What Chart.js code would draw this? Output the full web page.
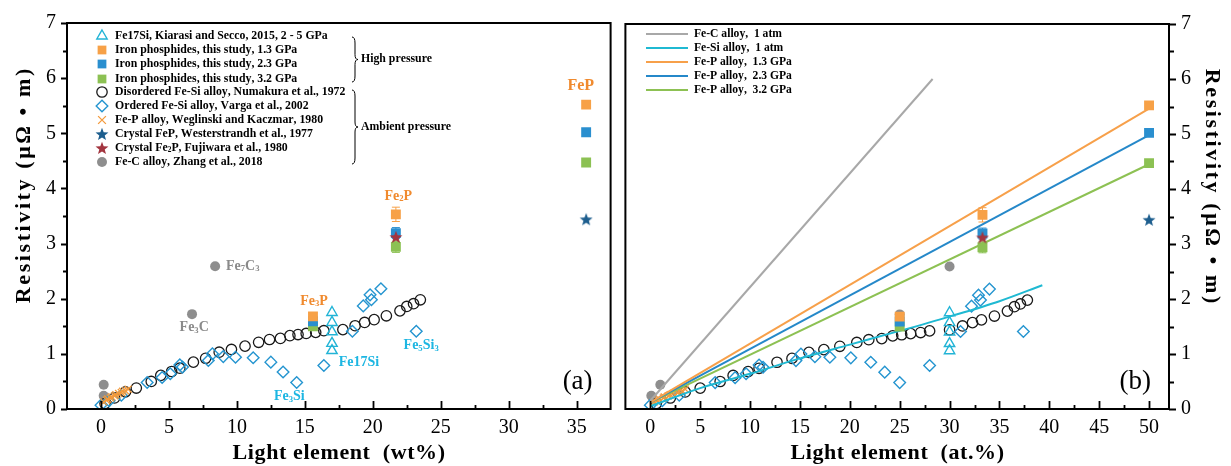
<!DOCTYPE html>
<html><head><meta charset="utf-8">
<script src="https://cdn.jsdelivr.net/npm/chart.js@4.4.1/dist/chart.umd.min.js"></script>
<style>
html,body{margin:0;padding:0;background:#fff;}
#wrap{position:relative;width:1231px;height:466px;overflow:hidden;background:#fff;}
.pane{position:absolute;top:0;height:466px;}
</style></head><body>
<div id="wrap">
  <div class="pane" style="left:0;width:618px"><canvas id="ca" width="618" height="466"></canvas></div>
  <div class="pane" style="left:618px;width:613px"><canvas id="cb" width="613" height="466"></canvas></div>
</div>
<script>
// ---------------- DATA ----------------
const wtTicks = [0, 5, 10, 15, 20, 25, 30, 35];
const atTicks = [0, 5, 10, 15, 20, 25, 30, 35, 40, 45, 50];
const resTicks = [0, 1, 2, 3, 4, 5, 6, 7];

const seriesLabels = [
  'Fe17Si, Kiarasi and Secco, 2015, 2 - 5 GPa',
  'Iron phosphides, this study, 1.3 GPa',
  'Iron phosphides, this study, 2.3 GPa',
  'Iron phosphides, this study, 3.2 GPa',
  'Disordered Fe-Si alloy, Numakura et al., 1972',
  'Ordered Fe-Si alloy, Varga et al., 2002',
  'Fe-P alloy, Weglinski and Kaczmar, 1980',
  'Crystal FeP, Westerstrandh et al., 1977',
  'Crystal Fe\u2082P, Fujiwara et al., 1980',
  'Fe-C alloy, Zhang et al., 2018'
];
const lineLabels = ['Fe-C alloy,  1 atm', 'Fe-Si alloy,  1 atm', 'Fe-P alloy,  1.3 GPa', 'Fe-P alloy,  2.3 GPa', 'Fe-P alloy,  3.2 GPa'];
const xTitleA = 'Light element  (wt%)';
const xTitleB = 'Light element  (at.%)';
const yTitle = 'Resistivity (\u03bc\u03a9 \u2022 m)';

// resistivity values (µΩ·m)
const fe17Si_res = [1.75, 1.57, 1.40, 1.19, 1.06];
const phos13_res = [1.68, 3.53, 5.52];
const phos23_res = [1.59, 3.19, 5.02];
const phos32_res = [1.50, 2.94, 4.47];
const phos13_err = [0.06, 0.13, 0.05];
const phos23_err = [0.05, 0.10, 0.05];
const phos32_err = [0.05, 0.10, 0.05];
const disSi_res = [0.10, 0.20, 0.31, 0.38, 0.50, 0.61, 0.68, 0.74, 0.85, 0.92, 1.03, 1.08, 1.14, 1.21, 1.26, 1.28, 1.33, 1.35, 1.37, 1.39, 1.42, 1.44, 1.51, 1.57, 1.62, 1.69, 1.78, 1.86, 1.91, 1.98];
const ordSi_res = [0.07, 0.15, 0.25, 0.48, 0.57, 0.64, 0.80, 0.76, 0.88, 1.00, 0.95, 0.94, 0.93, 0.85, 0.67, 0.48, 0.79, 1.41, 1.87, 2.07, 1.98, 2.18, 1.41];
const feP_res = [0.13, 0.16, 0.18, 0.20, 0.22, 0.24, 0.26, 0.28, 0.30, 0.32, 0.33, 0.36];
const crysFeP_res = [3.44];
const crysFe2P_res = [3.12];
const feC_res = [0.24, 0.44, 1.72, 2.59];

// composition, wt% (panel a)
const fe17Si_wt = [17.0, 17.0, 17.0, 17.0, 17.0];
const phos_wt = [15.6, 21.7, 35.7];
const disSi_wt = [0.3, 1.0, 1.8, 2.6, 3.7, 4.4, 5.2, 5.8, 6.8, 7.7, 8.7, 9.6, 10.6, 11.6, 12.4, 13.2, 13.9, 14.5, 15.1, 15.8, 16.4, 17.8, 18.7, 19.4, 20.1, 21.0, 22.0, 22.5, 23.0, 23.5];
const ordSi_wt = [0.0, 0.6, 1.5, 3.4, 4.5, 5.1, 5.8, 6.0, 7.9, 8.2, 9.0, 9.9, 11.2, 12.5, 13.4, 14.4, 16.4, 18.5, 19.3, 19.8, 19.9, 20.6, 23.2];
const feP_wt = [0.2, 0.4, 0.5, 0.7, 0.8, 1.0, 1.1, 1.3, 1.5, 1.6, 1.8, 2.0];
const crysFeP_wt = [35.7];
const crysFe2P_wt = [21.7];
const feC_wt = [0.2, 0.2, 6.7, 8.4];

// composition, at.% (panel b)
const fe17Si_at = [30, 30, 30, 30, 30];
const phos_at = [25, 33.3, 50];
const disSi_at = [0.6, 2.0, 3.5, 5.0, 7.0, 8.3, 9.8, 10.9, 12.7, 14.2, 15.9, 17.4, 19.0, 20.7, 21.9, 23.2, 24.3, 25.2, 26.1, 27.1, 28.0, 30.0, 31.3, 32.3, 33.2, 34.5, 35.8, 36.5, 37.1, 37.8];
const ordSi_at = [0.0, 1.2, 2.9, 6.5, 8.5, 9.6, 10.9, 11.3, 14.6, 15.1, 16.5, 18.0, 20.1, 22.1, 23.5, 25.0, 28.0, 31.1, 32.2, 32.9, 33.1, 34.0, 37.4];
const feP_at = [0.4, 0.7, 0.9, 1.3, 1.4, 1.8, 2.0, 2.3, 2.7, 2.9, 3.2, 3.5];
const crysFeP_at = [50];
const crysFe2P_at = [33.3];
const feC_at = [0.1, 1.0, 25, 30];

// fitted trend lines (panel b)
const lineFeC_at = [0, 28.3];
const lineFeC_res = [0.15, 6.0];
const lineFeSi_at = [0, 5, 10, 15, 20, 25, 30, 35, 39.3];
const lineFeSi_res = [0.05, 0.38, 0.64, 0.92, 1.17, 1.42, 1.68, 1.96, 2.25];
const lineFeP_at = [0, 50];
const lineFeP13_res = [0.12, 5.46];
const lineFeP23_res = [0.12, 4.98];
const lineFeP32_res = [0.12, 4.45];

// ---------------- STYLE ----------------
const SERIF = "'Liberation Serif','Times New Roman',serif";
const COL = {
  tri: '#22b4d6', orange: '#f7a147', blue: '#2a8fcf', green: '#8cc153', circ: '#1a1a1a',
  dia: '#2595d0', x: '#f39a3c', starB: '#1d5e8e', starR: '#a3353f', gray: '#8e8e8e',
  lFeC: '#a8a8a8', lFeSi: '#1fb9d2', lP13: '#f7a04a', lP23: '#2588c9', lP32: '#8dc153',
  txtO: '#f08a2e', txtC: '#1db6e2', txtG: '#8a8a8a'
};
function makeStar(color, size) {
  const c = document.createElement('canvas'); c.width = size; c.height = size;
  const g = c.getContext('2d'); g.fillStyle = color; g.beginPath();
  const cx = size / 2, cy = size / 2 + 0.6, R = size / 2 - 0.2, r = R * 0.42;
  for (let i = 0; i < 10; i++) { const a = -Math.PI / 2 + i * Math.PI / 5; const rr = i % 2 ? r : R; g.lineTo(cx + rr * Math.cos(a), cy + rr * Math.sin(a)); }
  g.closePath(); g.fill(); return c;
}
const starB = makeStar(COL.starB, 14), starR = makeStar(COL.starR, 14);

const MK = [
  {pointStyle: 'triangle', pointRadius: 6, pointBackgroundColor: 'rgba(0,0,0,0)', pointBorderColor: COL.tri, pointBorderWidth: 1.4},
  {pointStyle: 'rect', pointRadius: 7, pointBackgroundColor: COL.orange, pointBorderColor: COL.orange, pointBorderWidth: 0},
  {pointStyle: 'rect', pointRadius: 7, pointBackgroundColor: COL.blue, pointBorderColor: COL.blue, pointBorderWidth: 0},
  {pointStyle: 'rect', pointRadius: 7, pointBackgroundColor: COL.green, pointBorderColor: COL.green, pointBorderWidth: 0},
  {pointStyle: 'circle', pointRadius: 5.2, pointBackgroundColor: 'rgba(0,0,0,0)', pointBorderColor: COL.circ, pointBorderWidth: 1.3},
  {pointStyle: 'rectRot', pointRadius: 5.8, pointBackgroundColor: 'rgba(0,0,0,0)', pointBorderColor: COL.dia, pointBorderWidth: 1.4},
  {pointStyle: 'crossRot', pointRadius: 5, pointBackgroundColor: COL.x, pointBorderColor: COL.x, pointBorderWidth: 1.3},
  {pointStyle: starB, pointRadius: 7, pointBackgroundColor: COL.starB, pointBorderColor: COL.starB, pointBorderWidth: 0},
  {pointStyle: starR, pointRadius: 7, pointBackgroundColor: COL.starR, pointBorderColor: COL.starR, pointBorderWidth: 0},
  {pointStyle: 'circle', pointRadius: 5, pointBackgroundColor: COL.gray, pointBorderColor: COL.gray, pointBorderWidth: 0}
];
const ORDER = [5, 2, 3, 4, 8, 7, 6, 0, 1, 9];
const ERRS = [null, phos13_err, phos23_err, phos32_err, null, null, null, null, null, null];

function pts(xs, ys) { return xs.map((x, i) => ({x: x, y: ys[i]})); }
function pointSets(xsList) {
  const ysList = [fe17Si_res, phos13_res, phos23_res, phos32_res, disSi_res, ordSi_res, feP_res, crysFeP_res, crysFe2P_res, feC_res];
  return xsList.map((xs, i) => Object.assign({label: seriesLabels[i], data: pts(xs, ysList[i]), showLine: false, order: ORDER[i], errors: ERRS[i]}, MK[i]));
}

// ---------------- DRAW HELPERS ----------------
const SUB = '\u2080\u2081\u2082\u2083\u2084\u2085\u2086\u2087\u2088\u2089';
function richWidth(ctx, str, size, weight) {
  let w = 0;
  for (const ch of str) {
    const k = SUB.indexOf(ch);
    ctx.font = weight + ' ' + (k >= 0 ? size * 0.62 : size) + 'px ' + SERIF;
    w += ctx.measureText(k >= 0 ? String(k) : ch).width;
  }
  return w;
}
function drawRich(ctx, str, x, y, size, weight, color, align) {
  const w = richWidth(ctx, str, size, weight);
  let cx = align === 'center' ? x - w / 2 : (align === 'right' ? x - w : x);
  ctx.save(); ctx.fillStyle = color; ctx.textBaseline = 'middle'; ctx.textAlign = 'left';
  for (const ch of str) {
    const k = SUB.indexOf(ch);
    if (k >= 0) {
      ctx.font = weight + ' ' + (size * 0.62) + 'px ' + SERIF;
      ctx.fillText(String(k), cx, y + size * 0.22); cx += ctx.measureText(String(k)).width;
    } else {
      ctx.font = weight + ' ' + size + 'px ' + SERIF;
      ctx.fillText(ch, cx, y); cx += ctx.measureText(ch).width;
    }
  }
  ctx.restore();
}
function drawBrace(ctx, x, y1, y2, w) {
  const ym = (y1 + y2) / 2;
  ctx.beginPath();
  ctx.moveTo(x, y1);
  ctx.quadraticCurveTo(x + w, y1, x + w, y1 + 6);
  ctx.lineTo(x + w, ym - 5);
  ctx.quadraticCurveTo(x + w, ym, x + w * 2, ym);
  ctx.quadraticCurveTo(x + w, ym, x + w, ym + 5);
  ctx.lineTo(x + w, y2 - 6);
  ctx.quadraticCurveTo(x + w, y2, x, y2);
  ctx.stroke();
}
function spacedText(ctx, text, x, y, font, spacing, rot) {
  ctx.save();
  ctx.translate(x, y); if (rot) ctx.rotate(rot);
  ctx.font = font; ctx.fillStyle = '#000'; ctx.textBaseline = 'middle'; ctx.textAlign = 'left';
  let w = 0; const chars = Array.from(text);
  chars.forEach((c, i) => { w += ctx.measureText(c).width + (i < chars.length - 1 ? spacing : 0); });
  let cx = -w / 2;
  chars.forEach(c => { ctx.fillText(c, cx, 0); cx += ctx.measureText(c).width + spacing; });
  ctx.restore();
}

// frame + ticks + error bars + annotations
function framePlugin(cfg) {
  return {
    id: 'frame',
    beforeDatasetsDraw(chart) {
      const ctx = chart.ctx, xs = chart.scales.x, ys = chart.scales.y;
      chart.data.datasets.forEach(ds => {
        if (!ds.errors) return;
        ctx.save(); ctx.strokeStyle = ds.pointBackgroundColor; ctx.lineWidth = 1;
        ds.data.forEach((p, i) => {
          const px = xs.getPixelForValue(p.x), y1 = ys.getPixelForValue(p.y + ds.errors[i]), y2 = ys.getPixelForValue(p.y - ds.errors[i]);
          ctx.beginPath(); ctx.moveTo(px, y1); ctx.lineTo(px, y2);
          ctx.moveTo(px - 4, y1); ctx.lineTo(px + 4, y1); ctx.moveTo(px - 4, y2); ctx.lineTo(px + 4, y2); ctx.stroke();
        });
        ctx.restore();
      });
    },
    afterDraw(chart) {
      const ctx = chart.ctx, a = chart.chartArea, xs = chart.scales.x, ys = chart.scales.y;
      ctx.save();
      ctx.strokeStyle = '#000'; ctx.lineWidth = 2;
      ctx.strokeRect(a.left, a.top, a.right - a.left, a.bottom - a.top);
      ctx.lineWidth = 1.8; ctx.beginPath();
      // x ticks (inward)
      xs.ticks.forEach(t => {
        const p = Math.round(xs.getPixelForValue(t.value)) + 0.5;
        ctx.moveTo(p, a.bottom); ctx.lineTo(p, a.bottom - 8);
        const m = t.value + 2.5;
        if (m < xs.max) { const q = Math.round(xs.getPixelForValue(m)) + 0.5; ctx.moveTo(q, a.bottom); ctx.lineTo(q, a.bottom - 4); }
      });
      // y ticks (outward)
      const side = cfg.ySide, dir = side === 'left' ? -1 : 1, xe = side === 'left' ? a.left : a.right;
      ys.ticks.forEach(t => {
        const p = Math.round(ys.getPixelForValue(t.value)) + 0.5;
        ctx.moveTo(xe, p); ctx.lineTo(xe + dir * cfg.yMajor, p);
        const m = t.value + 0.5;
        if (m < ys.max) { const q = Math.round(ys.getPixelForValue(m)) + 0.5; ctx.moveTo(xe, q); ctx.lineTo(xe + dir * cfg.yMinor, q); }
      });
      ctx.stroke();
      // axis titles
      spacedText(ctx, cfg.xTitle, (a.left + a.right) / 2, 453, 'bold 22px ' + SERIF, 0.6, 0);
      spacedText(ctx, yTitle, cfg.yTitleX, cfg.yTitleY, 'bold 22px ' + SERIF, 2.6, side === 'left' ? -Math.PI / 2 : Math.PI / 2);
      // panel letter
      ctx.font = '27px ' + SERIF; ctx.fillStyle = '#000'; ctx.textAlign = 'right'; ctx.textBaseline = 'middle';
      ctx.fillText(cfg.letter, a.right - 18, a.bottom - 27);
      // annotations
      (cfg.ann || []).forEach(n => {
        drawRich(ctx, n.t, xs.getPixelForValue(n.x), ys.getPixelForValue(n.y), n.size, 'bold', n.color, n.align);
      });
      if (cfg.legend) cfg.legend(ctx, chart);
      ctx.restore();
    }
  };
}

function legendA(ctx, chart) {
  const rows = [36, 50, 64, 79, 92, 106, 120, 134, 148, 162];
  chart.data.datasets.forEach((ds, i) => {
    const y = rows[i];
    ctx.save();
    ctx.fillStyle = ds.pointBackgroundColor; ctx.strokeStyle = ds.pointBorderColor; ctx.lineWidth = ds.pointBorderWidth || 1;
    const r = ds.pointStyle === 'rect' ? 6.2 : (ds.pointStyle === 'crossRot' ? 5.5 : ds.pointRadius);
    Chart.helpers.drawPoint(ctx, {pointStyle: ds.pointStyle, radius: r, rotation: 0, borderWidth: ds.pointBorderWidth}, 102, y);
    ctx.restore();
    drawRich(ctx, ds.label, 115, y, 11.8, 'bold', '#000', 'left');
  });
  ctx.save(); ctx.strokeStyle = '#000'; ctx.lineWidth = 1;
  drawBrace(ctx, 352, 37, 82, 3);
  drawBrace(ctx, 352, 90, 164, 3);
  ctx.restore();
  drawRich(ctx, 'High pressure', 361, 59, 11.8, 'bold', '#000', 'left');
  drawRich(ctx, 'Ambient pressure', 361, 127, 11.8, 'bold', '#000', 'left');
}
function legendB(ctx, chart) {
  const rows = [34, 48, 62, 76, 90];
  const cols = [COL.lFeC, COL.lFeSi, COL.lP13, COL.lP23, COL.lP32];
  lineLabels.forEach((t, i) => {
    ctx.save(); ctx.strokeStyle = cols[i]; ctx.lineWidth = 2;
    ctx.beginPath(); ctx.moveTo(646 - 618, rows[i]); ctx.lineTo(688 - 618, rows[i]); ctx.stroke(); ctx.restore();
    drawRich(ctx, t, 694 - 618, rows[i], 11.6, 'bold', '#000', 'left');
  });
}

function xScale(min, max, tickVals) {
  return {
    type: 'linear', min: min, max: max, position: 'bottom',
    afterBuildTicks: s => { s.ticks = tickVals.map(v => ({value: v})); },
    afterFit: s => { s.height = 57; },
    grid: {display: false, drawTicks: false}, border: {display: false},
    ticks: {font: {family: SERIF, size: 20}, color: '#000', padding: 7, maxRotation: 0, autoSkip: false},
    title: {display: false}
  };
}
function yScale(pos, width) {
  return {
    type: 'linear', min: 0, max: 7, position: pos,
    afterBuildTicks: s => { s.ticks = resTicks.map(v => ({value: v})); },
    afterFit: s => { s.width = width; },
    grid: {display: false, drawTicks: false}, border: {display: false},
    ticks: {font: {family: SERIF, size: 20}, color: '#000', padding: pos === 'left' ? 11 : 12},
    title: {display: false}
  };
}

// ---------------- PANEL A ----------------
new Chart(document.getElementById('ca'), {
  type: 'scatter',
  data: {datasets: pointSets([fe17Si_wt, phos_wt, phos_wt, phos_wt, disSi_wt, ordSi_wt, feP_wt, crysFeP_wt, crysFe2P_wt, feC_wt])},
  options: {
    responsive: false, animation: false, events: [],
    layout: {padding: {top: 19, right: 4, left: 0, bottom: 0}},
    plugins: {legend: {display: false}, tooltip: {enabled: false}},
    scales: {x: xScale(-2.5, 37.5, wtTicks), y: yScale('left', 67)}
  },
  plugins: [framePlugin({
    ySide: 'left', yMajor: 6, yMinor: 4, yTitleX: 24, yTitleY: 186, letter: '(a)', legend: legendA, xTitle: xTitleA,
    ann: [
      {t: 'Fe\u2087C\u2083', x: 9.2, y: 2.59, size: 14, color: COL.txtG, align: 'left'},
      {t: 'Fe\u2083C', x: 6.86, y: 1.48, size: 14, color: COL.txtG, align: 'center'},
      {t: 'Fe\u2083Si', x: 13.86, y: 0.22, size: 14, color: COL.txtC, align: 'center'},
      {t: 'Fe17Si', x: 17.5, y: 0.85, size: 14, color: COL.txtC, align: 'left'},
      {t: 'Fe\u2085Si\u2083', x: 23.56, y: 1.15, size: 14, color: COL.txtC, align: 'center'},
      {t: 'Fe\u2083P', x: 15.68, y: 1.96, size: 14, color: COL.txtO, align: 'center'},
      {t: 'Fe\u2082P', x: 21.88, y: 3.86, size: 14, color: COL.txtO, align: 'center'},
      {t: 'FeP', x: 35.3, y: 5.86, size: 16, color: COL.txtO, align: 'center'}
    ]
  })]
});

// ---------------- PANEL B ----------------
function lineSet(label, xs, ys, color, tension, order) {
  return {label: label, data: pts(xs, ys), showLine: true, pointRadius: 0, borderColor: color, backgroundColor: color, borderWidth: 2, tension: tension, cubicInterpolationMode: tension ? 'monotone' : 'default', order: order, fill: false};
}
const setsB = pointSets([fe17Si_at, phos_at, phos_at, phos_at, disSi_at, ordSi_at, feP_at, crysFeP_at, crysFe2P_at, feC_at]).concat([
  lineSet(lineLabels[0], lineFeC_at, lineFeC_res, COL.lFeC, 0, 4.5),
  lineSet(lineLabels[1], lineFeSi_at, lineFeSi_res, COL.lFeSi, 0.4, 4.5),
  lineSet(lineLabels[2], lineFeP_at, lineFeP13_res, COL.lP13, 0, 4.5),
  lineSet(lineLabels[3], lineFeP_at, lineFeP23_res, COL.lP23, 0, 4.5),
  lineSet(lineLabels[4], lineFeP_at, lineFeP32_res, COL.lP32, 0, 4.5)
]);
new Chart(document.getElementById('cb'), {
  type: 'scatter',
  data: {datasets: setsB},
  options: {
    responsive: false, animation: false, events: [],
    layout: {padding: {top: 19, right: 0, left: 4, bottom: 0}},
    plugins: {legend: {display: false}, tooltip: {enabled: false}},
    scales: {x: xScale(-2.5, 52, atTicks), y: yScale('right', 62)}
  },
  plugins: [framePlugin({
    ySide: 'right', yMajor: 7, yMinor: 5, yTitleX: 594, yTitleY: 186, letter: '(b)', legend: legendB, xTitle: xTitleB
  })]
});
</script>
</body></html>
